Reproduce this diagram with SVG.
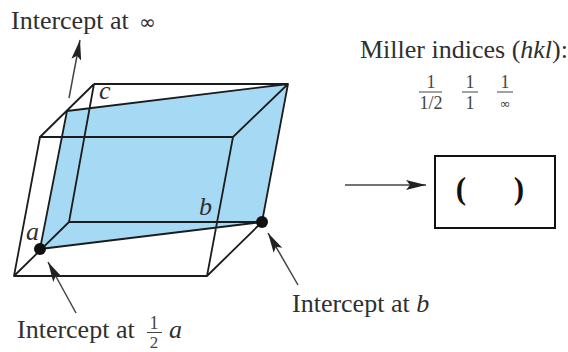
<svg xmlns="http://www.w3.org/2000/svg" width="568" height="352" viewBox="0 0 568 352">
<style>
text{font-family:"Liberation Serif","Times New Roman",serif;fill:#2f2f2f}
.t{font-size:26px}
.f{font-size:18px;fill:#444;text-anchor:middle}
.i{font-style:italic}
.e{stroke:#1c1c1c;stroke-width:1.8;fill:none;stroke-linejoin:round}
.l{stroke:#444;stroke-width:1.5;fill:none;marker-end:url(#ah)}
.b{stroke:#444;stroke-width:1;fill:none}
</style>
<defs><marker id="ah" viewBox="0 0 20 10" refX="20" refY="5" markerUnits="userSpaceOnUse" markerWidth="20" markerHeight="10" orient="auto"><path d="M0 0L20 5L0 10L4 5Z" fill="#222"/></marker></defs>
<rect width="568" height="352" fill="#fff"/>
<g id="plane"><polygon points="67,111 288,84 262,222 40,249" fill="#a6daf4"/></g>
<g id="connectors">
<path class="e" d="M94 84H288L233 137H40L94 84M40 137L14 276H207L233 137M207 276L262 222M14 276L69 222L94 84M69 222H262M288 84L262 222L40 249L67 111L288 84"/>
<path class="l" d="M69 98L80 40"/>
<path class="l" d="M76 313L48 262"/>
<path class="l" d="M298 285L268 233"/>
<path class="l" d="M345 185H426"/>
</g>
<g id="point-a"><circle cx="40" cy="249" r="6" fill="#111"/><text class="t i" x="26" y="240">a</text></g>
<g id="point-b"><circle cx="262" cy="222" r="6" fill="#111"/><text class="t i" x="199" y="215">b</text></g>
<g id="point-c"><text class="t i" x="99" y="99">c</text></g>
<g id="label-infinity"><text class="t" x="11" y="29">Intercept at</text><text x="139" y="29" font-size="20" style="font-family:'DejaVu Sans',sans-serif">∞</text></g>
<g id="label-half"><text class="t" x="17" y="338">Intercept at</text><text class="f" x="154" y="329" style="font-size:18px">1</text><path class="b" d="M147 332.5H162"/><text class="f" x="154" y="348" style="font-size:17px">2</text><text class="t i" x="169" y="338">a</text></g>
<g id="label-b"><text class="t" x="292" y="312">Intercept at <tspan class="i">b</tspan></text></g>
<g id="miller"><text class="t" x="360" y="58">Miller indices (<tspan class="i">hkl</tspan>):</text>
<text class="f" x="431" y="88">1</text><path class="b" d="M419 92H442"/><text class="f" x="431" y="109">1/2</text>
<text class="f" x="470" y="88">1</text><path class="b" d="M462 92H478"/><text class="f" x="470" y="109">1</text>
<text class="f" x="505" y="88">1</text><path class="b" d="M497 92H513"/><text class="f" x="505" y="108" style="font-size:13px;font-family:'DejaVu Sans',sans-serif">∞</text></g>
<g id="answer"><rect x="435" y="156" width="120" height="72" fill="#fff" stroke="#111" stroke-width="2"/>
<text x="461" y="199" font-size="31" font-weight="bold" text-anchor="middle" style="fill:#111">(</text><text x="519" y="199" font-size="31" font-weight="bold" text-anchor="middle" style="fill:#111">)</text></g>
</svg>
